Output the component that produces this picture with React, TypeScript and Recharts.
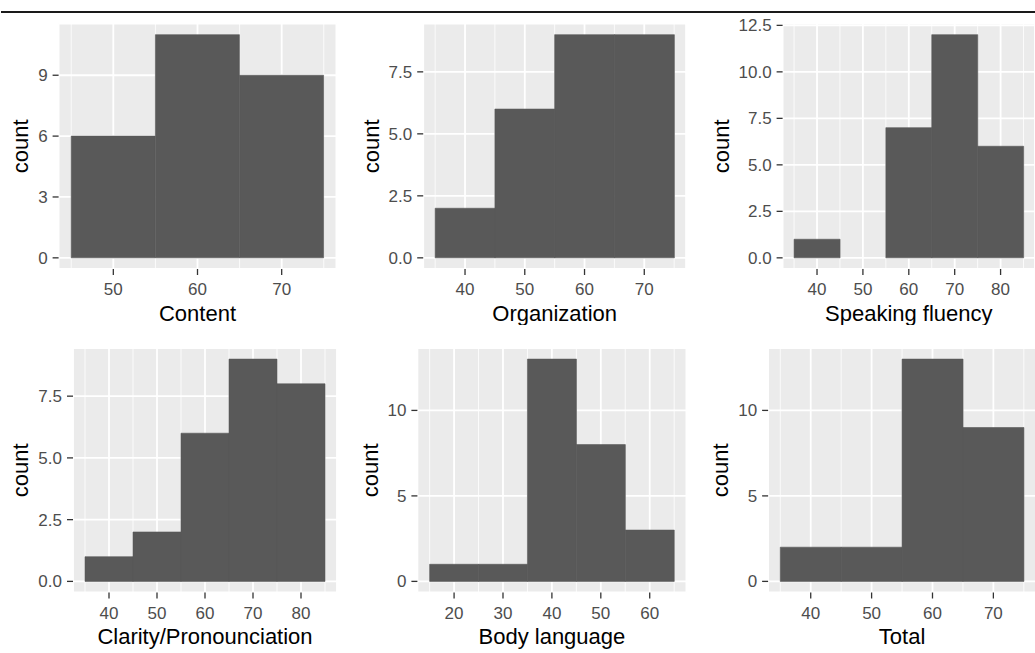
import React from 'react';
import { BarChart, Bar, XAxis, YAxis, CartesianGrid, Label } from 'recharts';

// bin midpoints (binwidth 10) and counts
const contentMids = [50, 60, 70];
const contentCounts = [6, 11, 9];
const organizationMids = [40, 50, 60, 70];
const organizationCounts = [2, 6, 9, 9];
const fluencyMids = [40, 50, 60, 70, 80];
const fluencyCounts = [1, 0, 7, 12, 6];
const clarityMids = [40, 50, 60, 70, 80];
const clarityCounts = [1, 2, 6, 9, 8];
const bodyMids = [20, 30, 40, 50, 60];
const bodyCounts = [1, 1, 13, 8, 3];
const totalMids = [40, 50, 60, 70];
const totalCounts = [2, 2, 13, 9];

// y axis breaks (major / minor) as ggplot drew them
const contentYTicks = [0, 3, 6, 9];
const contentYMinor = [1.5, 4.5, 7.5, 10.5];
const quarterYTicks = [0, 2.5, 5, 7.5];
const quarterYMinor = [1.25, 3.75, 6.25, 8.75];
const fluencyYTicks = [0, 2.5, 5, 7.5, 10, 12.5];
const fluencyYMinor = [1.25, 3.75, 6.25, 8.75, 11.25];
const fiveYTicks = [0, 5, 10];
const fiveYMinor = [2.5, 7.5, 12.5];

const FONT = '"Liberation Sans", Arial, sans-serif';

interface Panel {
  title: string;
  mids: number[];
  counts: number[];
  yTicks: number[];
  yMinor: number[];
  yDigits: number;
}

interface Box {
  left: number;
  top: number;
  width: number;
  height: number;
  yWidth: number;
  mt: number;
  mr: number;
  xHeight: number;
  countX: number;
  titleOffset: number;
}

const panels: { p: Panel; box: Box }[] = [
  {
    p: { title: 'Content', mids: contentMids, counts: contentCounts, yTicks: contentYTicks, yMinor: contentYMinor, yDigits: 0 },
    box: { left: 0, top: 14, width: 345, height: 311, yWidth: 58.6, mt: 9.5, mr: 8.6, xHeight: 56, countX: 28.3, titleOffset: 4.5 },
  },
  {
    p: { title: 'Organization', mids: organizationMids, counts: organizationCounts, yTicks: quarterYTicks, yMinor: quarterYMinor, yDigits: 1 },
    box: { left: 345, top: 14, width: 345, height: 311, yWidth: 78.2, mt: 9.5, mr: 3.9, xHeight: 56, countX: 34.3, titleOffset: 4.5 },
  },
  {
    p: { title: 'Speaking fluency', mids: fluencyMids, counts: fluencyCounts, yTicks: fluencyYTicks, yMinor: fluencyYMinor, yDigits: 1 },
    box: { left: 690, top: 14, width: 345, height: 311, yWidth: 92.6, mt: 9.5, mr: 0, xHeight: 56, countX: 39.3, titleOffset: 4.5 },
  },
  {
    p: { title: 'Clarity/Pronounciation', mids: clarityMids, counts: clarityCounts, yTicks: quarterYTicks, yMinor: quarterYMinor, yDigits: 1 },
    box: { left: 0, top: 325, width: 345, height: 328, yWidth: 73, mt: 23, mr: 8, xHeight: 60.5, countX: 28.3, titleOffset: 9 },
  },
  {
    p: { title: 'Body language', mids: bodyMids, counts: bodyCounts, yTicks: fiveYTicks, yMinor: fiveYMinor, yDigits: 0 },
    box: { left: 345, top: 325, width: 345, height: 328, yWidth: 72.4, mt: 23, mr: 3.6, xHeight: 60.5, countX: 33.3, titleOffset: 9 },
  },
  {
    p: { title: 'Total', mids: totalMids, counts: totalCounts, yTicks: fiveYTicks, yMinor: fiveYMinor, yDigits: 0 },
    box: { left: 690, top: 325, width: 346, height: 328, yWidth: 78.1, mt: 23, mr: 0, xHeight: 60.5, countX: 38.3, titleOffset: 9 },
  },
];

const Histogram = ({ p, box }: { p: Panel; box: Box }) => {
  const data = p.mids.map((mid, i) => ({ mid, count: p.counts[i] }));
  const lo = p.mids[0] - 5;
  const hi = p.mids[p.mids.length - 1] + 5;
  const xPad = (hi - lo) * 0.05;
  const yMax = Math.max(...p.counts);
  const xDomain = [lo - xPad, hi + xPad];
  const yDomain = [-yMax * 0.05, yMax * 1.05];
  const edges = [lo, ...p.mids.map(m => m + 5)];

  const countLabel = ({ viewBox }: any) => {
    const x = viewBox.x + box.countX;
    const y = viewBox.y + viewBox.height / 2;
    return (
      <text x={x} y={y} transform={`rotate(-90 ${x} ${y})`} textAnchor="middle" fill="#000" fontSize={22} fontFamily={FONT}>
        count
      </text>
    );
  };

  return (
    <div style={{ position: 'absolute', left: box.left, top: box.top }}>
      <BarChart
        width={box.width}
        height={box.height}
        data={data}
        margin={{ top: box.mt, right: box.mr, bottom: 0, left: 0 }}
        barCategoryGap={0}
      >
        <CartesianGrid fill="#EBEBEB" fillOpacity={1} stroke="#FFFFFF" strokeWidth={0.8} xAxisId="minor" yAxisId="minor" />
        <CartesianGrid stroke="#FFFFFF" strokeWidth={1.8} />
        <XAxis
          dataKey="mid"
          type="number"
          domain={xDomain}
          ticks={p.mids}
          interval={0}
          height={box.xHeight}
          axisLine={false}
          tickSize={6}
          tickMargin={8}
          tickLine={{ stroke: '#333333', strokeWidth: 1.3 }}
          tick={{ fill: '#4D4D4D', fontSize: 17, fontFamily: FONT }}
        >
          <Label value={p.title} position="insideBottom" offset={box.titleOffset} fill="#000" fontSize={22} fontFamily={FONT} />
        </XAxis>
        <XAxis xAxisId="minor" dataKey="mid" type="number" domain={xDomain} ticks={edges} interval={0} hide />
        <YAxis
          type="number"
          domain={yDomain}
          ticks={p.yTicks}
          interval={0}
          width={box.yWidth}
          axisLine={false}
          tickSize={6}
          tickMargin={5}
          tickLine={{ stroke: '#333333', strokeWidth: 1.3 }}
          tick={{ fill: '#4D4D4D', fontSize: 17, fontFamily: FONT }}
          tickFormatter={(v: number) => v.toFixed(p.yDigits)}
        >
          <Label content={countLabel} />
        </YAxis>
        <YAxis yAxisId="minor" type="number" domain={yDomain} ticks={p.yMinor} interval={0} hide />
        <Bar dataKey="count" fill="#595959" stroke="#595959" strokeWidth={0.6} isAnimationActive={false} />
      </BarChart>
    </div>
  );
}

export default function App() {
  return (
    <div style={{ position: 'absolute', left: 0, top: 0, width: 1035, height: 653, background: '#fff', overflow: 'hidden' }}>
      <div style={{ position: 'absolute', left: 1, top: 11, width: 1034, height: 2, background: '#1a1a1a' }} />
      {panels.map((d, i) => (
        <Histogram key={i} p={d.p} box={d.box} />
      ))}
    </div>
  );
}
